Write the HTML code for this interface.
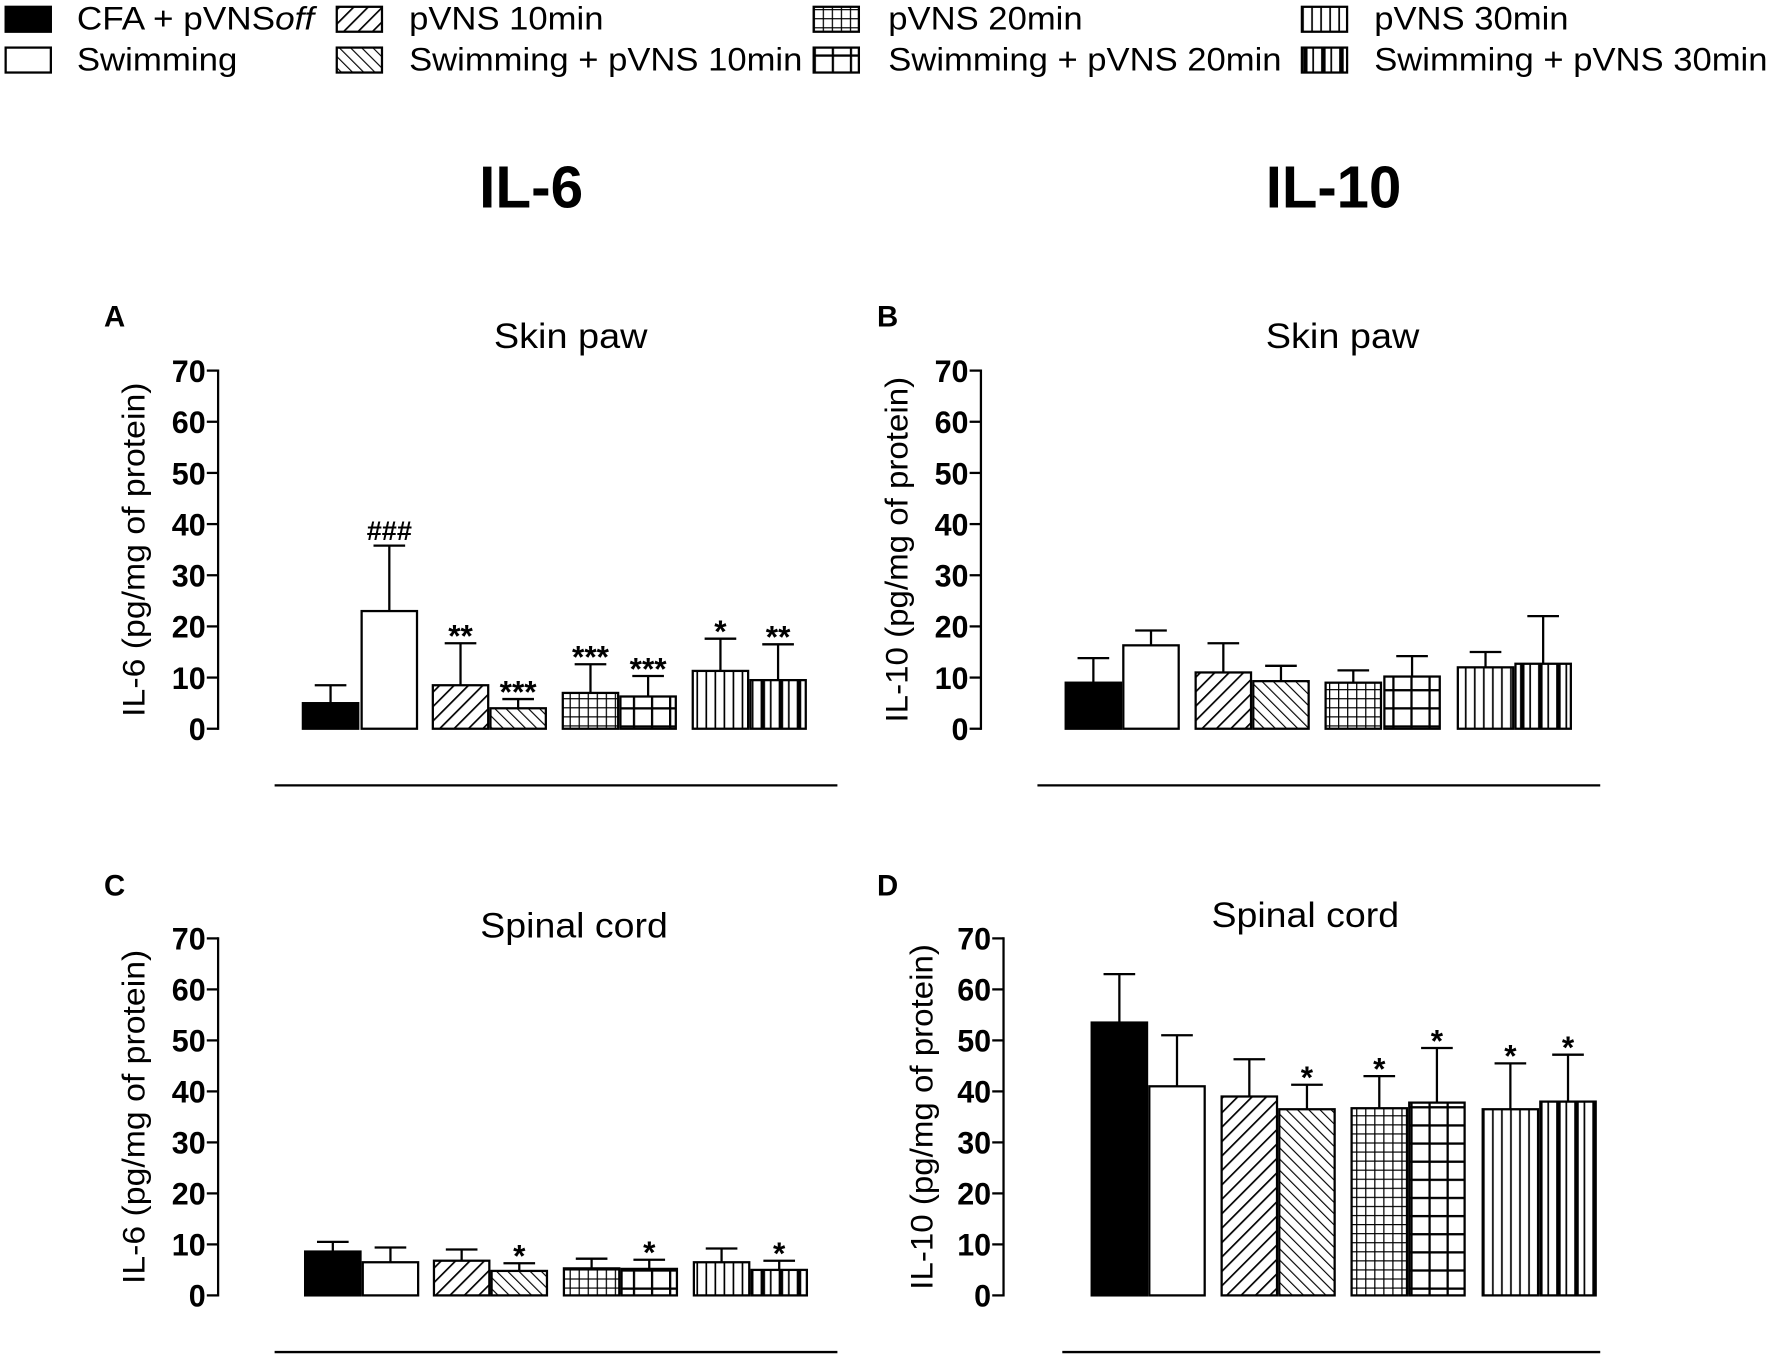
<!DOCTYPE html>
<html><head><meta charset="utf-8"><style>
html,body{margin:0;padding:0;background:#fff;}
svg{display:block;font-family:"Liberation Sans",Arial,sans-serif;}
</style></head><body>
<svg id="fig" width="1772" height="1360" viewBox="0 0 1568 1200" preserveAspectRatio="none" xmlns="http://www.w3.org/2000/svg">
<defs>
<pattern id="p-diag1" patternUnits="userSpaceOnUse" width="9" height="9" patternTransform="rotate(45)"><rect width="9" height="9" fill="#fff"/><line x1="0" y1="0" x2="0" y2="9" stroke="#000" stroke-width="3"/></pattern>
<pattern id="p-diag2" patternUnits="userSpaceOnUse" width="7" height="7" patternTransform="rotate(-45)"><rect width="7" height="7" fill="#fff"/><line x1="0" y1="0" x2="0" y2="7" stroke="#000" stroke-width="2"/></pattern>
<pattern id="p-grid1" patternUnits="userSpaceOnUse" width="8" height="8"><rect width="8" height="8" fill="#fff"/><path d="M0 0H8M0 0V8" stroke="#000" stroke-width="2.2"/></pattern>
<pattern id="p-grid2" patternUnits="userSpaceOnUse" width="16" height="16"><rect width="16" height="16" fill="#fff"/><path d="M0 0H16M0 0V16" stroke="#000" stroke-width="4"/></pattern>
<pattern id="p-vert1" patternUnits="userSpaceOnUse" width="8" height="8"><rect width="8" height="8" fill="#fff"/><line x1="1" y1="0" x2="1" y2="8" stroke="#000" stroke-width="1.5"/></pattern>
<pattern id="p-vert2" patternUnits="userSpaceOnUse" width="16" height="8"><rect width="16" height="8" fill="#fff"/><line x1="3" y1="0" x2="3" y2="8" stroke="#000" stroke-width="4"/><line x1="10" y1="0" x2="10" y2="8" stroke="#000" stroke-width="1.5"/></pattern>
</defs>
<g id="legend"></g>
<text x="470" y="183" font-size="52" font-weight="bold" text-anchor="middle" textLength="92" lengthAdjust="spacingAndGlyphs">IL-6</text>
<text x="1180" y="183" font-size="52" font-weight="bold" text-anchor="middle" textLength="120" lengthAdjust="spacingAndGlyphs">IL-10</text>
<g id="panels"></g>
</svg>
<script>
const categories = ["CFA + pVNSoff","Swimming","pVNS 10min","Swimming + pVNS 10min","pVNS 20min","Swimming + pVNS 20min","pVNS 30min","Swimming + pVNS 30min"];
const fills = ["#000","#fff","url(#p-diag1)","url(#p-diag2)","url(#p-grid1)","url(#p-grid2)","url(#p-vert1)","url(#p-vert2)"];
const yTicks = [0,10,20,30,40,50,60,70];
const meansA = [5,23,8.5,4,7,6.3,11.3,9.5];
const errTopA = [8.5,35.8,16.7,5.8,12.6,10.3,17.6,16.5];
const annA = ["","###","**","***","***","***","*","**"];
const meansB = [9,16.3,11,9.3,9,10.2,12,12.7];
const errTopB = [13.8,19.2,16.7,12.3,11.4,14.2,15,22];
const annB = ["","","","","","","",""];
const meansC = [8.6,6.5,6.8,4.8,5.3,5.2,6.5,5];
const errTopC = [10.5,9.4,9,6.3,7.2,7,9.2,6.8];
const annC = ["","","","*","","*","","*"];
const meansD = [53.5,41,39,36.5,36.7,37.8,36.5,38];
const errTopD = [63,51,46.3,41.3,43,48.5,45.5,47.2];
const annD = ["","","","*","*","*","*","*"];

const NS="http://www.w3.org/2000/svg";
function mk(tag,attrs,parent,txt){const e=document.createElementNS(NS,tag);for(const k in attrs)e.setAttribute(k,attrs[k]);if(txt!==undefined)e.textContent=txt;parent.appendChild(e);return e;}

const lg=document.getElementById('legend');
const legPos=[[5,68,16],[5,68,52],[298,362,16],[298,362,52],[720,786,16],[720,786,52],[1152,1216,16],[1152,1216,52]];
const legLen=[210,142,172,348,172,348,172,348];
categories.forEach((c,i)=>{
  const p=legPos[i];
  const g=mk('g',{},lg);
  
  
  const r=mk('rect',{x:p[0],y:p[2]-10,width:40,height:22,fill:fills[i],stroke:'#000','stroke-width':2},g);
  
  
  const t=mk('text',{x:p[1],y:p[2]+10,'font-size':29,textLength:legLen[i],lengthAdjust:'spacingAndGlyphs'},g);
  
  
  if(i===0){t.appendChild(document.createTextNode('CFA + pVNS'));mk('tspan',{'font-style':'italic'},t,'off');}
  else t.textContent=c;
});

const panels=[
 {id:'a',letter:'A',lx:92,ly:288,title:'Skin paw',tx:505,ty:307,ax:193,y0:643,y70:327,bx:[268,320,383,434,498,549,613,664],bw:49,line:[243,741,693],ylab:'IL-6 (pg/mg of protein)',ylx:125,means:meansA,tops:errTopA,ann:annA},
 {id:'b',letter:'B',lx:776,ly:288,title:'Skin paw',tx:1188,ty:307,ax:868,y0:643,y70:327,bx:[943,994,1058,1109,1173,1225,1290,1341],bw:49,line:[918,1416,693],ylab:'IL-10 (pg/mg of protein)',ylx:800,means:meansB,tops:errTopB,ann:annB},
 {id:'c',letter:'C',lx:92,ly:790,title:'Spinal cord',tx:508,ty:827,ax:193,y0:1143,y70:828,bx:[270,321,384,435,499,550,614,665],bw:49,line:[243,741,1193],ylab:'IL-6 (pg/mg of protein)',ylx:125,means:meansC,tops:errTopC,ann:annC},
 {id:'d',letter:'D',lx:776,ly:790,title:'Spinal cord',tx:1155,ty:818,ax:888,y0:1143,y70:828,bx:[966,1017,1081,1132,1196,1247,1312,1363],bw:49,line:[940,1416,1193],ylab:'IL-10 (pg/mg of protein)',ylx:822,means:meansD,tops:errTopD,ann:annD}
];
const root=document.getElementById('panels');
panels.forEach(P=>{
  const g=mk('g',{},root);
  
  
  const sy=v=>P.y0-(v/70)*(P.y0-P.y70);
  const L=mk('text',{x:P.lx,y:P.ly,'font-size':26,'font-weight':'bold'},g,P.letter);
  
  
  const T=mk('text',{x:P.tx,y:P.ty,'font-size':31,'text-anchor':'middle',textLength:P.title.length>8?166:136,lengthAdjust:'spacingAndGlyphs'},g,P.title);
  
  
  const yc=(P.y0+P.y70)/2;
  const YL=mk('text',{x:P.ylx+3,y:yc,'font-size':28,'text-anchor':'middle',transform:`rotate(-90 ${P.ylx+3} ${yc})`,textLength:P.ylab.length>23?305:295,lengthAdjust:'spacingAndGlyphs'},g,P.ylab);
  
  
  const ax=mk('line',{x1:P.ax,y1:sy(70)-1,x2:P.ax,y2:sy(0)+1,stroke:'#000','stroke-width':2},g);
  
  
  yTicks.forEach(v=>{
    const tk=mk('line',{x1:P.ax-10,y1:sy(v),x2:P.ax,y2:sy(v),stroke:'#000','stroke-width':2},g);
    
    
    const tl=mk('text',{x:P.ax-11,y:sy(v)+10,'font-size':28,'font-weight':'bold','text-anchor':'end',textLength:v===0?15:30,lengthAdjust:'spacingAndGlyphs'},g,String(v));
    
    
  });
  P.means.forEach((m,i)=>{
    const x=P.bx[i],w=P.bw,cx=x+w/2;
    const eb=mk('line',{x1:cx,y1:sy(m),x2:cx,y2:sy(P.tops[i]),stroke:'#000','stroke-width':2},g);
    
    
    const cap=mk('line',{x1:cx-14,y1:sy(P.tops[i]),x2:cx+14,y2:sy(P.tops[i]),stroke:'#000','stroke-width':2},g);
    
    
    const b=mk('rect',{x:x,y:sy(m),width:w,height:sy(0)-sy(m),fill:fills[i],stroke:'#000','stroke-width':2},g);
    
    
    if(P.ann[i]){
      const isHash=P.ann[i][0]==='#';
      const a=mk('text',{x:cx,y:sy(P.tops[i])-(isHash?5:-3),'font-size':isHash?24:28,'font-weight':'bold','text-anchor':'middle'},g,P.ann[i]);
      
      
    }
  });
  const bl=mk('line',{x1:P.line[0],y1:P.line[2],x2:P.line[1],y2:P.line[2],stroke:'#000','stroke-width':2},g);
  
  
});
</script>
</body></html>
